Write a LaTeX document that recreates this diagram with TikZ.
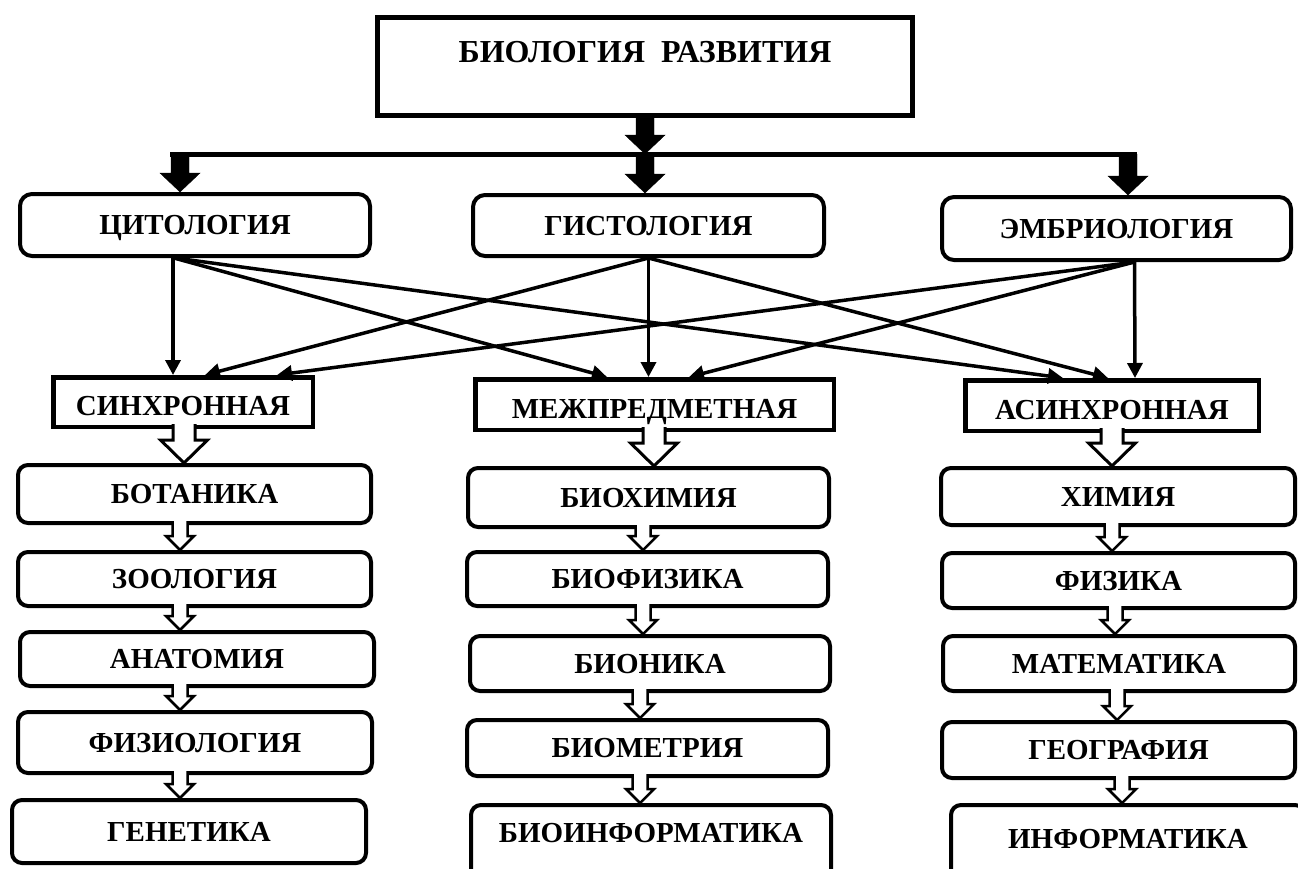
\documentclass[tikz,border=0pt]{standalone}
\usepackage{fontspec}
\setmainfont{Liberation Serif}
\usetikzlibrary{arrows.meta,calc}
\tikzstyle{sheet} = [x=1pt, y=-1pt]
\tikzstyle{boxText} = [font=\fontsize{29}{31}\selectfont\bfseries, text height=19.5pt, text depth=0pt, inner sep=0pt, align=center]
\tikzstyle{titleBox} = [draw, line width=5pt, font=\fontsize{32}{34}\selectfont\bfseries, inner sep=0pt, anchor=base, minimum width=535pt, text height=44.5pt, text depth=53.5pt]
\tikzstyle{branchBox} = [boxText, draw, line width=4pt, rounded corners=12pt]
\tikzstyle{kindBox} = [boxText, draw, line width=4.5pt, fill=white, text height=27.5pt]
\tikzstyle{subjectBox} = [boxText, draw, line width=4pt, rounded corners=10pt]
\tikzstyle{link} = [line width=3.5pt, -{Triangle[width=15pt,length=15pt]}]
\tikzstyle{barLine} = [line width=5pt]
\tikzstyle{fatArrowStyle} = [fill=black, draw=black, line width=0.4pt]
\tikzstyle{bigHollowStyle} = [draw=black, fill=white, line width=3pt]
\tikzstyle{smallHollowStyle} = [draw=black, fill=white, line width=2.5pt]
\newcommand{\blockArrow}[6]{\filldraw [#1] let \p1 = (#2), \p2 = (#3) in (\x2 - #4pt, \y1) -- (\x2 - #4pt, \y2 + #6pt) -- (\x2 - #5pt, \y2 + #6pt) -- (\x2, \y2) -- (\x2 + #5pt, \y2 + #6pt) -- (\x2 + #4pt, \y2 + #6pt) -- (\x2 + #4pt, \y1);}
\newcommand{\bigHollow}[3]{\blockArrow{bigHollowStyle}{[yshift=5pt]#1.south}{[xshift=#3pt]#2.north}{11}{23.5}{23}}
\newcommand{\smallHollow}[3]{\blockArrow{smallHollowStyle}{[yshift=4pt]#1.south}{[xshift=#3pt]#2.north}{7.5}{14}{14}}

\begin{document}
\begin{tikzpicture}[sheet]
  \useasboundingbox (0,0) rectangle (1298,868);
  \clip (0,0) rectangle (1298,868);

  \node[titleBox] (bio) at (645,62) {БИОЛОГИЯ~ РАЗВИТИЯ};

  \node[branchBox, minimum width=350pt, minimum height=62pt] (cyto) at (195,225) {ЦИТОЛОГИЯ};
  \node[branchBox, minimum width=351pt, minimum height=61pt] (histo) at (648.5,225.5) {ГИСТОЛОГИЯ};
  \node[branchBox, minimum width=349pt, minimum height=63pt] (embryo) at (1116.5,228.5) {ЭМБРИОЛОГИЯ};

  \node[kindBox, minimum width=259.5pt, minimum height=49.5pt] (synch) at (183,402) {СИНХРОННАЯ};
  \node[kindBox, minimum width=358.5pt, minimum height=50.5pt] (inter) at (654.5,404.5) {МЕЖПРЕДМЕТНАЯ};
  \node[kindBox, minimum width=293.5pt, minimum height=50.5pt] (asynch) at (1112,405.5) {АСИНХРОННАЯ};

  \node[subjectBox, minimum width=353pt, minimum height=58pt] (bot) at (194.5,494) {БОТАНИКА};
  \node[subjectBox, minimum width=353pt, minimum height=54pt] (zoo) at (194.5,579) {ЗООЛОГИЯ};
  \node[subjectBox, minimum width=354pt, minimum height=54pt] (anat) at (197,659) {АНАТОМИЯ};
  \node[subjectBox, minimum width=354pt, minimum height=61pt] (physio) at (195,742.5) {ФИЗИОЛОГИЯ};
  \node[subjectBox, minimum width=354pt, minimum height=63pt] (gen) at (189,831.5) {ГЕНЕТИКА};

  \node[subjectBox, minimum width=361pt, minimum height=59pt] (biochem) at (648.5,497.5) {БИОХИМИЯ};
  \node[subjectBox, minimum width=361pt, minimum height=54pt] (biophys) at (647.5,579) {БИОФИЗИКА};
  \node[subjectBox, minimum width=360pt, minimum height=55pt] (bionic) at (650,663.5) {БИОНИКА};
  \node[subjectBox, minimum width=361pt, minimum height=56pt] (biometr) at (647.5,748) {БИОМЕТРИЯ};
  \node[subjectBox, minimum width=360pt, minimum height=78pt, text depth=22pt] (bioinf) at (651,844) {БИОИНФОРМАТИКА};

  \node[subjectBox, minimum width=354pt, minimum height=57pt] (chem) at (1118,496.5) {ХИМИЯ};
  \node[subjectBox, minimum width=353pt, minimum height=55pt] (phys) at (1118.5,580.5) {ФИЗИКА};
  \node[subjectBox, minimum width=352pt, minimum height=55pt] (math) at (1119,663.5) {МАТЕМАТИКА};
  \node[subjectBox, minimum width=353pt, minimum height=56pt] (geo) at (1118.5,750) {ГЕОГРАФИЯ};
  \node[subjectBox, minimum width=354pt, minimum height=78pt, text depth=10pt] (inform) at (1128,844) {ИНФОРМАТИКА};

  \coordinate (brL) at (180,154);
  \coordinate (brM) at (645,154);
  \coordinate (brR) at (1128,154);
  \draw[barLine] ([xshift=-10pt]brL) -- ([xshift=9pt]brR);
  \blockArrow{fatArrowStyle}{bio.south}{brM}{9}{20}{19}
  \blockArrow{fatArrowStyle}{brL}{brL |- cyto.north}{9}{20}{19}
  \blockArrow{fatArrowStyle}{brM}{brM |- histo.north}{9}{20}{19}
  \blockArrow{fatArrowStyle}{brR}{brR |- embryo.north}{9}{20}{19}

  \draw[link] ([xshift=-22pt]cyto.south) -- ([xshift=-10pt]synch.north);
  \draw[link] ([xshift=-21pt]cyto.south) -- ([xshift=-47.5pt]inter.north);
  \draw[link] ([xshift=-20pt]cyto.south) -- ([xshift=-49pt]asynch.north);
  \draw[link] (histo.south) -- ([xshift=22pt]synch.north);
  \draw[link] (histo.south) -- ([xshift=-6pt]inter.north);
  \draw[link] (histo.south) -- ([xshift=-4pt]asynch.north);
  \draw[link] ([xshift=18pt]embryo.south) -- ([xshift=94pt]synch.north);
  \draw[link] ([xshift=18pt]embryo.south) -- ([xshift=34.5pt]inter.north);
  \draw[link] ([xshift=18pt]embryo.south) -- ([xshift=23pt]asynch.north);

  \bigHollow{synch}{bot}{-10.5}
  \bigHollow{inter}{biochem}{5.5}
  \bigHollow{asynch}{chem}{-6}

  \smallHollow{bot}{zoo}{-14.5}
  \smallHollow{zoo}{anat}{-17}
  \smallHollow{anat}{physio}{-15}
  \smallHollow{physio}{gen}{-9}
  \smallHollow{biochem}{biophys}{-4.5}
  \smallHollow{biophys}{bionic}{-7}
  \smallHollow{bionic}{biometr}{-7.5}
  \smallHollow{biometr}{bioinf}{-11}
  \smallHollow{chem}{phys}{-6.5}
  \smallHollow{phys}{math}{-4}
  \smallHollow{math}{geo}{-1.5}
  \smallHollow{geo}{inform}{-6}
\end{tikzpicture}
\end{document}
